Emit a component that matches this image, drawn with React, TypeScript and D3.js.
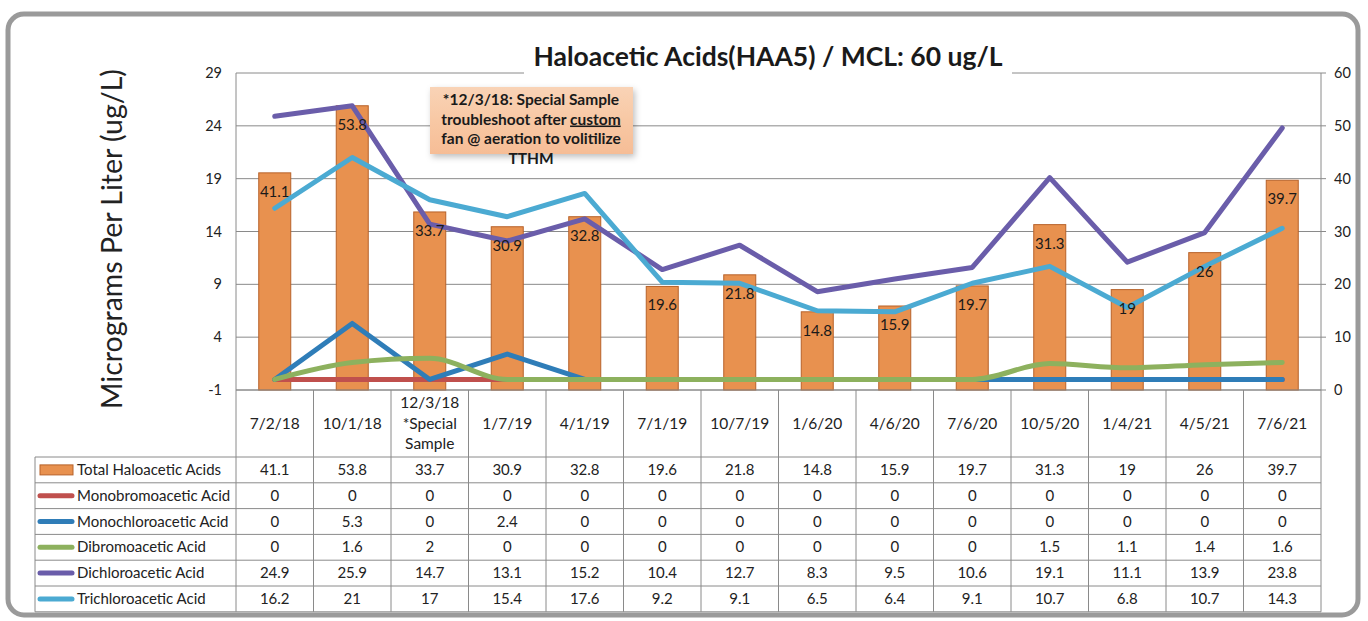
import React from 'react';
import * as d3 from 'd3';

const categories = ['7/2/18', '10/1/18', '12/3/18|*Special|Sample', '1/7/19', '4/1/19', '7/1/19', '10/7/19', '1/6/20', '4/6/20', '7/6/20', '10/5/20', '1/4/21', '4/5/21', '7/6/21'];
const totalHAA = [41.1, 53.8, 33.7, 30.9, 32.8, 19.6, 21.8, 14.8, 15.9, 19.7, 31.3, 19, 26, 39.7];
const monobromo = [0, 0, 0, 0, 0, 0, 0, 0, 0, 0, 0, 0, 0, 0];
const monochloro = [0, 5.3, 0, 2.4, 0, 0, 0, 0, 0, 0, 0, 0, 0, 0];
const dibromo = [0, 1.6, 2, 0, 0, 0, 0, 0, 0, 0, 1.5, 1.1, 1.4, 1.6];
const dichloro = [24.9, 25.9, 14.7, 13.1, 15.2, 10.4, 12.7, 8.3, 9.5, 10.6, 19.1, 11.1, 13.9, 23.8];
const trichloro = [16.2, 21, 17, 15.4, 17.6, 9.2, 9.1, 6.5, 6.4, 9.1, 10.7, 6.8, 10.7, 14.3];
const leftTicks = [-1, 4, 9, 14, 19, 24, 29];
const rightTicks = [0, 10, 20, 30, 40, 50, 60];

const FONT = 'Lato, "Noto Sans", sans-serif';

const lineSeries = [
  { name: 'Monobromoacetic Acid', values: monobromo, color: '#C0504D', smooth: false },
  { name: 'Monochloroacetic Acid', values: monochloro, color: '#2F7DB8', smooth: false },
  { name: 'Dibromoacetic Acid', values: dibromo, color: '#8DB15E', smooth: true },
  { name: 'Dichloroacetic Acid', values: dichloro, color: '#6A5DAA', smooth: false },
  { name: 'Trichloroacetic Acid', values: trichloro, color: '#4BAAD2', smooth: false },
];

export default function App() {
  const W = 1368, H = 621;
  const plotL = 236, plotR = 1321, plotT = 73, plotB = 390;
  const x = d3.scaleBand<number>().domain(d3.range(categories.length)).range([plotL, plotR]).paddingInner(0).paddingOuter(0);
  const yL = d3.scaleLinear().domain([-1, 29]).range([plotB, plotT]);
  const yR = d3.scaleLinear().domain([0, 60]).range([plotB, plotT]);
  const bw = x.bandwidth();
  const cx = (i: number) => (x(i) as number) + bw / 2;
  const barW = 32;

  const headerB = 457;
  const rowH = 25.8;
  const tableL = 35;
  const rowNames = ['Total Haloacetic Acids', ...lineSeries.map(s => s.name)];
  const rowValues = [totalHAA, ...lineSeries.map(s => s.values)];
  const tableB = headerB + rowH * rowNames.length;

  const gridColor = '#8a8a8a';

  return (
    <svg width={W} height={H} style={{ position: 'absolute', left: 0, top: 0, background: '#fff' }} fontFamily={FONT}>
      <defs>
        <linearGradient id="note" x1="0" y1="0" x2="0" y2="1">
          <stop offset="0" stopColor="#f9d3b6" />
          <stop offset="0.5" stopColor="#f8c8a4" />
          <stop offset="1" stopColor="#f6bd96" />
        </linearGradient>
        <filter id="shadow" x="-20%" y="-30%" width="140%" height="160%">
          <feDropShadow dx="2" dy="3" stdDeviation="3" floodColor="#000" floodOpacity="0.25" />
        </filter>
      </defs>
      <rect x={0} y={0} width={W} height={H} fill="#fff" />
      {/* frame */}
      <rect x={8} y={14} width={1350} height={601} rx={16} ry={16} fill="#fff" stroke="#9a9a9a" strokeWidth={5} />

      {/* gridlines */}
      {leftTicks.map(t => (
        <line key={'g' + t} x1={plotL} x2={plotR + 5} y1={yL(t)} y2={yL(t)} stroke={gridColor} strokeWidth={1} />
      ))}
      <line x1={plotL} x2={plotL} y1={plotT} y2={plotB} stroke={gridColor} strokeWidth={1} />
      <line x1={plotR} x2={plotR} y1={plotT} y2={plotB} stroke={gridColor} strokeWidth={1} />

      {/* title */}
      <rect x={524} y={38} width={488} height={40} fill="#fff" />
      <text x={768} y={66} textAnchor="middle" fontSize={26.5} fontWeight={700} fill="#1a1a1a" fontFamily={FONT}>
        Haloacetic Acids(HAA5) / MCL: 60 ug/L
      </text>

      {/* axis labels */}
      {leftTicks.map(t => (
        <text key={'l' + t} x={222} y={yL(t) + 5} textAnchor="end" fontSize={14.5} fill="#222">{t}</text>
      ))}
      {rightTicks.map(t => (
        <text key={'r' + t} x={1334} y={yR(t) + 5} textAnchor="start" fontSize={14.5} fill="#222">{t}</text>
      ))}
      <text transform={`translate(122,239) rotate(-90)`} textAnchor="middle" fontSize={28.5} fill="#222">
        Micrograms Per Liter (ug/L)
      </text>

      {/* bars */}
      {totalHAA.map((v, i) => (
        <rect key={'b' + i} x={cx(i) - barW / 2} y={yR(v)} width={barW} height={yR(0) - yR(v)} fill="#E8914F" stroke="#B7622A" strokeWidth={1} />
      ))}

      {/* lines */}
      {lineSeries.map(s => {
        const gen = d3.line<number>().x((_, i) => cx(i)).y(d => yL(d)).curve(s.smooth ? d3.curveMonotoneX : d3.curveLinear);
        return <path key={s.name} d={gen(s.values) || ''} fill="none" stroke={s.color} strokeWidth={5} strokeLinejoin="round" strokeLinecap="round" />;
      })}

      {/* bar labels */}
      {totalHAA.map((v, i) => (
        <text key={'bl' + i} x={cx(i)} y={yR(v) + 24} textAnchor="middle" fontSize={15} fill="#1a1a1a">{v}</text>
      ))}

      {/* annotation */}
      <rect x={430} y={87} width={203} height={67} fill="url(#note)" filter="url(#shadow)" />
      <g fontSize={15.5} fontWeight={700} fill="#1a1a1a" textAnchor="middle">
        <text x={531} y={105}>*12/3/18: Special Sample</text>
        <text x={531} y={124.5}>troubleshoot after <tspan style={{ textDecoration: 'underline' }}>custom</tspan></text>
        <text x={531} y={144}>fan @ aeration to volitilize</text>
        <text x={531} y={163.5}>TTHM</text>
      </g>

      {/* table */}
      <g stroke={gridColor} strokeWidth={1}>
        <line x1={plotL} x2={plotR} y1={plotB} y2={plotB} />
        {d3.range(categories.length + 1).map(i => (
          <line key={'v' + i} x1={plotL + i * bw} x2={plotL + i * bw} y1={plotB} y2={tableB} />
        ))}
        <line x1={tableL} x2={tableL} y1={headerB} y2={tableB} />
        {d3.range(rowNames.length + 1).map(r => (
          <line key={'h' + r} x1={tableL} x2={plotR} y1={headerB + r * rowH} y2={headerB + r * rowH} />
        ))}
      </g>
      {categories.map((c, i) => {
        const parts = c.split('|');
        const mid = (plotB + headerB) / 2 + 5;
        return (
          <text key={'c' + i} x={cx(i)} textAnchor="middle" fontSize={15.5} fill="#222">
            {parts.map((p, k) => (
              <tspan key={k} x={cx(i)} y={mid + (k - (parts.length - 1) / 2) * 20.5}>{p}</tspan>
            ))}
          </text>
        );
      })}
      {rowNames.map((n, r) => {
        const yc = headerB + r * rowH + rowH / 2;
        return (
          <g key={'row' + r}>
            {r === 0 ? (
              <rect x={40} y={yc - 5} width={33} height={10} fill="#E8914F" stroke="#B7622A" strokeWidth={1} />
            ) : (
              <line x1={40} x2={72} y1={yc} y2={yc} stroke={lineSeries[r - 1].color} strokeWidth={5} strokeLinecap="round" />
            )}
            <text x={77} y={yc + 5} fontSize={15} fill="#222">{n}</text>
            {rowValues[r].map((v, i) => (
              <text key={i} x={cx(i)} y={yc + 5} textAnchor="middle" fontSize={15} fill="#222">{v}</text>
            ))}
          </g>
        );
      })}
    </svg>
  );
}
